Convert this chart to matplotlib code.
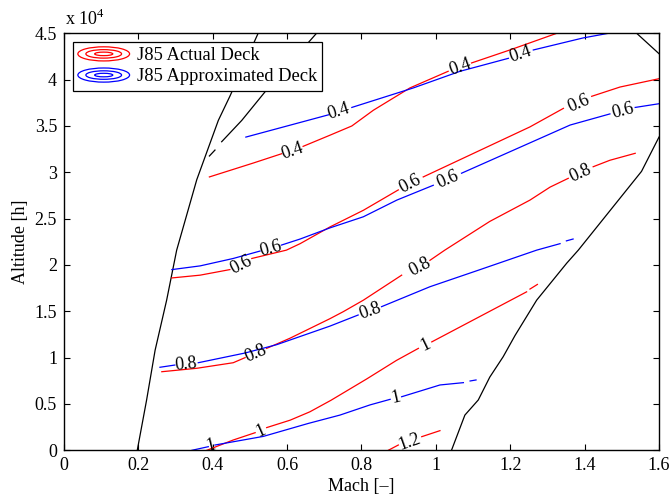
import numpy as np
import matplotlib
matplotlib.use('Agg')
import matplotlib.pyplot as plt
from matplotlib.patches import Ellipse
from matplotlib.lines import Line2D
from matplotlib.legend_handler import HandlerBase
from matplotlib.ticker import FuncFormatter

plt.rcParams['font.family'] = ['Liberation Serif', 'DejaVu Serif']
plt.rcParams['mathtext.fontset'] = 'custom'
plt.rcParams['mathtext.rm'] = 'Liberation Serif'

# black boundary lines (Mach, altitude in ft)
bound_left_mach = [0.197, 0.222, 0.245, 0.276, 0.303, 0.357, 0.415, 0.446, 0.522]
bound_left_alt = [0, 5400, 10800, 16200, 21600, 29200, 35600, 38200, 45000]
bound_dash_mach = [0.391, 0.406]
bound_dash_alt = [31760, 32400]
bound_mid_mach = [0.424, 0.478, 0.545, 0.679]
bound_mid_alt = [33300, 35600, 38900, 45000]
bound_right_mach = [1.042, 1.078, 1.114, 1.145, 1.181, 1.213, 1.271, 1.352, 1.383, 1.455, 1.553, 1.600]
bound_right_alt = [0, 3800, 5430, 7900, 10100, 12400, 16200, 20200, 21600, 25200, 30100, 33800]
bound_top_mach = [1.540, 1.600]
bound_top_alt = [45000, 42800]

# J85 actual deck contours: pieces of each level, broken where the labels sit
actual_04_mach = [[0.391, 0.509, 0.585], [0.643, 0.715, 0.774, 0.832, 0.930, 1.033], [1.096, 1.199, 1.325]]
actual_04_alt = [[29500, 31000, 32000], [32800, 34000, 35000, 36700, 39100, 40900], [41800, 43200, 45000]]
actual_04_lbl = [(0.614, 32300), (1.065, 41350)]

actual_06_mach = [[0.290, 0.366, 0.446], [0.505, 0.598, 0.635, 0.715, 0.805, 0.899],
                  [0.966, 1.253, 1.343], [1.419, 1.495, 1.600]]
actual_06_alt = [[18600, 18900, 19500], [20700, 21600, 22300, 24100, 25900, 28100],
                 [29500, 34900, 36900], [38200, 39200, 40100]]
actual_06_lbl = [(0.478, 19950), (0.930, 28800), (1.385, 37450)]

actual_08_mach = [[0.263, 0.357, 0.455, 0.487], [0.545, 0.608, 0.715, 0.751, 0.805, 0.908],
                  [0.984, 1.024, 1.145, 1.253, 1.307, 1.356], [1.423, 1.468, 1.536]]
actual_08_alt = [[8480, 8850, 9450, 10000], [11000, 12100, 14200, 14960, 16200, 18900],
                 [20500, 21600, 24700, 27000, 28400, 29350], [30600, 31300, 32050]]
actual_08_lbl = [(0.515, 10400), (0.957, 19750), (1.390, 29950)]

actual_10_mach = [[0.384, 0.455, 0.514], [0.545, 0.608, 0.661, 0.718, 0.814, 0.894, 0.953],
                  [0.989, 1.244], [1.253, 1.273]]
actual_10_alt = [[0, 1110, 1900], [2450, 3250, 4150, 5400, 7700, 9700, 11000],
                 [11700, 17100], [17400, 17900]]
actual_10_lbl = [(0.529, 2100), (0.971, 11350)]

actual_12_mach = [[0.872, 0.899], [0.962, 1.011]]
actual_12_alt = [[0, 570], [1470, 2120]]
actual_12_lbl = [(0.930, 950)]

# J85 approximated deck contours
approx_04_mach = [[0.489, 0.711], [0.774, 0.939, 1.065, 1.195], [1.262, 1.396, 1.464]]
approx_04_alt = [[33800, 36200], [37000, 39100, 40900, 42300], [43200, 44500, 45000]]
approx_04_lbl = [(0.739, 36600), (1.228, 42750)]

approx_06_mach = [[0.290, 0.366, 0.455, 0.527], [0.585, 0.635, 0.715, 0.805, 0.895, 0.993],
                  [1.069, 1.361, 1.468], [1.536, 1.600]]
approx_06_alt = [[19500, 19900, 20700, 21500], [22150, 22800, 24000, 25200, 27000, 28600],
                 [29900, 35100, 36300], [37000, 37400]]
approx_06_lbl = [(0.557, 21800), (1.033, 29250), (1.503, 36650)]

approx_08_mach = [[0.258, 0.298], [0.361, 0.487, 0.572, 0.715, 0.791],
                  [0.854, 0.984, 1.119, 1.271, 1.334], [1.351, 1.369]]
approx_08_alt = [[8960, 9200], [9450, 10500, 11400, 13400, 14600],
                 [15500, 17650, 19500, 21600, 22300], [22600, 22800]]
approx_08_lbl = [(0.328, 9300), (0.823, 15050)]

approx_10_mach = [[0.344, 0.388], [0.406, 0.536, 0.657, 0.742, 0.823, 0.877],
                  [0.908, 1.011, 1.074], [1.092, 1.108]]
approx_10_alt = [[0, 390], [570, 1500, 2900, 3800, 4900, 5500],
                 [5780, 7050, 7300], [7480, 7590]]
approx_10_lbl = [(0.394, 480), (0.892, 5640)]

level_text = {'04': '0.4', '06': '0.6', '08': '0.8', '10': '1', '12': '1.2'}
actual_deck = {'04': (actual_04_mach, actual_04_alt, actual_04_lbl),
               '06': (actual_06_mach, actual_06_alt, actual_06_lbl),
               '08': (actual_08_mach, actual_08_alt, actual_08_lbl),
               '10': (actual_10_mach, actual_10_alt, actual_10_lbl),
               '12': (actual_12_mach, actual_12_alt, actual_12_lbl)}
approx_deck = {'04': (approx_04_mach, approx_04_alt, approx_04_lbl),
               '06': (approx_06_mach, approx_06_alt, approx_06_lbl),
               '08': (approx_08_mach, approx_08_alt, approx_08_lbl),
               '10': (approx_10_mach, approx_10_alt, approx_10_lbl)}

FS = 13


class EllipseHandler(HandlerBase):
    """Concentric ellipses, like a MATLAB contour legend entry."""
    def create_artists(self, legend, orig_handle, xdescent, ydescent,
                       width, height, fontsize, trans):
        cx = width / 2 - xdescent
        cy = height / 2 - ydescent
        out = []
        for fw, fh in [(1.0, 1.0), (0.69, 0.6), (0.35, 0.25)]:
            e = Ellipse((cx, cy), width * fw, height * fh, fill=False,
                        edgecolor=orig_handle.get_color(), lw=0.9, transform=trans)
            out.append(e)
        return out


def label_angle(ax, mach, alt, x, y):
    """Angle (deg) of the gap the label sits in, measured on screen."""
    best, ang = None, 0.0
    px, py = ax.transData.transform((x, y))
    for j in range(len(mach) - 1):
        p0 = ax.transData.transform((mach[j][-1], alt[j][-1]))
        p1 = ax.transData.transform((mach[j + 1][0], alt[j + 1][0]))
        d = np.hypot((p0[0] + p1[0]) / 2 - px, (p0[1] + p1[1]) / 2 - py)
        if best is None or d < best:
            best = d
            ang = np.degrees(np.arctan2(p1[1] - p0[1], p1[0] - p0[0]))
    return ang


fig = plt.figure(figsize=(6.71, 5.01), dpi=100)
ax = fig.add_axes([64 / 671, 1 - 450.3 / 501, 595 / 671, 417 / 501])
ax.set_xlim(0, 1.6)
ax.set_ylim(0, 45000)

for mx, hy in [(bound_left_mach, bound_left_alt), (bound_dash_mach, bound_dash_alt),
               (bound_mid_mach, bound_mid_alt), (bound_right_mach, bound_right_alt),
               (bound_top_mach, bound_top_alt)]:
    ax.plot(mx, hy, color='k', lw=0.9)

for deck, col in [(actual_deck, 'red'), (approx_deck, 'blue')]:
    for key, (mach, alt, lbls) in deck.items():
        for m, h in zip(mach, alt):
            ax.plot(m, h, color=col, lw=0.9)
        for (lx, ly) in lbls:
            a = label_angle(ax, mach, alt, lx, ly)
            ax.text(lx, ly, level_text[key], fontsize=FS, ha='center', va='center',
                    rotation=a, rotation_mode='anchor', color='k')

ax.set_xticks(np.arange(0, 1.61, 0.2))
ax.set_yticks(np.arange(0, 45001, 5000))
ax.xaxis.set_major_formatter(FuncFormatter(lambda v, _: f'{v:g}'))
ax.yaxis.set_major_formatter(FuncFormatter(lambda v, _: f'{v / 1e4:g}'))
ax.tick_params(direction='in', top=True, right=True, length=4, width=0.8,
               labelsize=FS, pad=5)
for s in ax.spines.values():
    s.set_linewidth(1.0)

ax.set_xlabel('Mach [–]', fontsize=FS, labelpad=3)
ax.set_ylabel('Altitude [h]', fontsize=FS, labelpad=4)
ax.text(0.002, 1.02, r'x 10$^{4}$', transform=ax.transAxes, fontsize=FS,
        ha='left', va='baseline')

handles = [Line2D([], [], color='red'), Line2D([], [], color='blue')]
leg = ax.legend(handles, ['J85 Actual Deck', 'J85 Approximated Deck'],
                handler_map={Line2D: EllipseHandler()}, loc='upper left',
                bbox_to_anchor=(0.0146, 0.98), borderaxespad=0, fancybox=False,
                edgecolor='k', framealpha=1, fontsize=13.3, handlelength=2.8,
                handleheight=0.8, handletextpad=0.4, labelspacing=0.2, borderpad=0.28)
leg.get_frame().set_linewidth(0.9)

fig.savefig('out.png', dpi=100)
